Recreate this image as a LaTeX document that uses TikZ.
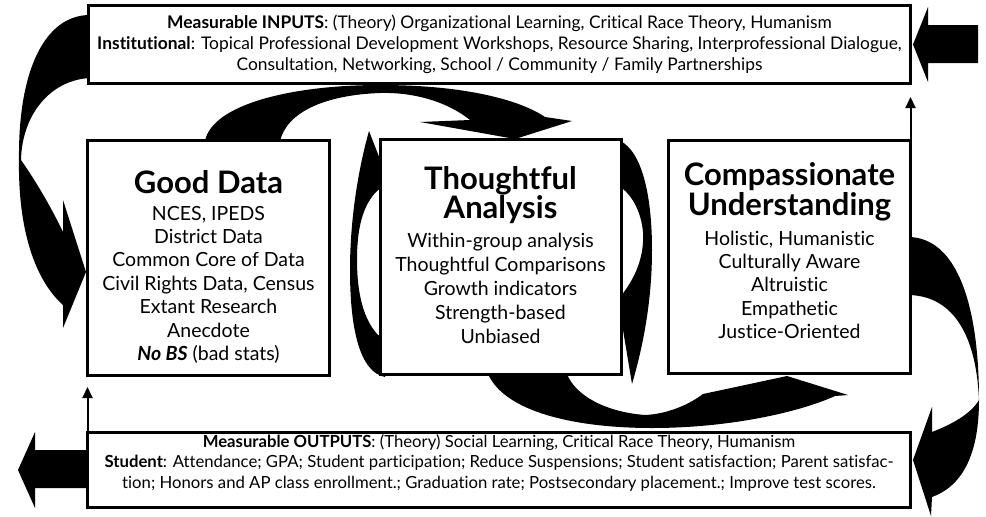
\documentclass[tikz,border=0pt]{standalone}
\usepackage{fontspec}
\setmainfont{Lato}[Ligatures=NoCommon]
\usetikzlibrary{arrows.meta}

\tikzset{
  stagebox/.style={draw, line width=3pt, fill=white, inner sep=0pt},
  boxline/.style={font=\fontsize{17.4}{21}\selectfont, inner sep=0pt},
  outline/.style={font=\fontsize{16.7}{21}\selectfont, inner sep=0pt},
  heading/.style={font=\fontsize{31}{30}\selectfont\bfseries, inner sep=0pt},
  row/.style={font=\fontsize{19.5}{23}\selectfont, inner sep=0pt},
  riser/.style={line width=2pt, -{Triangle[length=11pt,width=10pt]}}
}

\begin{document}
\begin{tikzpicture}[x=1pt, y=-1pt]
\useasboundingbox (0,0) rectangle (986,517);

% curved arrows, drawn first so the boxes cover their ends
\fill (90,15) .. controls (45,15) and (18,70) .. (19,160)
  .. controls (18,230) and (35,280) .. (63,305)
  -- (63,328) -- (86,272) -- (63,200) -- (63,232)
  .. controls (50,205) and (35,180) .. (21,160)
  .. controls (22,115) and (50,80) .. (90,78) -- cycle;
\fill (205,141) .. controls (212,105) and (290,85) .. (380,85)
  .. controls (465,85) and (520,100) .. (545,117)
  -- (572,121) -- (515,139) -- (420,122) -- (470,120)
  .. controls (445,100) and (410,92) .. (380,93)
  .. controls (325,95) and (287,112) .. (280,141) -- cycle;
\fill (385,377) .. controls (360,372) and (350,330) .. (350,270)
  .. controls (350,220) and (358,170) .. (369,131)
  -- (390,185) -- (378,190)
  .. controls (362,205) and (357,230) .. (357,260)
  .. controls (357,295) and (364,320) .. (378,335)
  -- (390,340) -- cycle;
\fill (615,139) .. controls (640,145) and (652,190) .. (652,250)
  .. controls (652,295) and (645,340) .. (632,384)
  -- (618,300) -- (624,292)
  .. controls (640,270) and (644,250) .. (643,232)
  .. controls (641,212) and (633,197) .. (622,188)
  -- (612,185) -- cycle;
\fill (488,374) .. controls (505,412) and (575,428) .. (652,428)
  .. controls (730,428) and (800,412) .. (835,396)
  -- (848,395) -- (787,376) -- (703,394)
  .. controls (690,404) and (668,414) .. (645,415)
  .. controls (605,412) and (575,395) .. (567,374) -- cycle;
\fill (909,237) .. controls (955,238) and (979,300) .. (979,400)
  .. controls (979,450) and (965,485) .. (932,497)
  -- (931,516) -- (913,460) -- (932,407) -- (932,432)
  .. controls (950,425) and (970,415) .. (979,400)
  .. controls (976,330) and (950,296) .. (909,295) -- cycle;

% block arrows in and out
\fill (978,25) -- (928,25) -- (928,7) -- (913,44.5) -- (928,82) -- (928,63) -- (978,63) -- cycle;
\fill (86,450) -- (35,450) -- (35,432) -- (18,470) -- (35,508) -- (35,488) -- (86,488) -- cycle;

% boxes
\node[stagebox, minimum width=822pt, minimum height=78pt] (inputs) at (499.5,44.5) {};
\node[stagebox, minimum width=242pt, minimum height=235pt] (gooddata) at (208.5,258) {};
\node[stagebox, minimum width=241pt, minimum height=235pt] (analysis) at (500.5,257) {};
\node[stagebox, minimum width=242pt, minimum height=233pt] (understanding) at (789.5,257) {};
\node[stagebox, minimum width=823pt, minimum height=75pt] (outputs) at (499,469.5) {};

\node[boxline, anchor=base] (in1) at (499.5,28) {\textbf{Measurable INPUTS}: (Theory) Organizational Learning, Critical Race Theory, Humanism};
\node[boxline, anchor=base] (in2) at (499.5,49.5) {\textbf{Institutional}: Topical Professional Development Workshops, Resource Sharing, Interprofessional Dialogue,};
\node[boxline, anchor=base] (in3) at (499.5,70) {Consultation, Networking, School / Community / Family Partnerships};

\node[heading, anchor=base] (gd0) at (208.5,193) {Good Data};
\node[row, anchor=base] (gd1) at (208.5,220) {NCES, IPEDS};
\node[row, anchor=base] (gd2) at (208.5,243.4) {District Data};
\node[row, anchor=base] (gd3) at (208.5,266.8) {Common Core of Data};
\node[row, anchor=base] (gd4) at (208.5,290.2) {Civil Rights Data, Census};
\node[row, anchor=base] (gd5) at (208.5,313.6) {Extant Research};
\node[row, anchor=base] (gd6) at (208.5,337) {Anecdote};
\node[row, anchor=base] (gd7) at (208.5,360.4) {\textbf{\textit{No BS}} (bad stats)};

\node[heading, anchor=base] (ta0) at (500.5,189) {Thoughtful};
\node[heading, anchor=base] (ta1) at (500.5,218) {Analysis};
\node[row, anchor=base] (ta2) at (500.5,247) {Within-group analysis};
\node[row, anchor=base] (ta3) at (500.5,271) {Thoughtful Comparisons};
\node[row, anchor=base] (ta4) at (500.5,295) {Growth indicators};
\node[row, anchor=base] (ta5) at (500.5,319) {Strength-based};
\node[row, anchor=base] (ta6) at (500.5,343) {Unbiased};

\node[heading, anchor=base] (cu0) at (789.5,185) {Compassionate};
\node[heading, anchor=base] (cu1) at (789.5,215) {Understanding};
\node[row, anchor=base] (cu2) at (789.5,245) {Holistic, Humanistic};
\node[row, anchor=base] (cu3) at (789.5,268) {Culturally Aware};
\node[row, anchor=base] (cu4) at (789.5,291) {Altruistic};
\node[row, anchor=base] (cu5) at (789.5,315) {Empathetic};
\node[row, anchor=base] (cu6) at (789.5,338) {Justice-Oriented};

\node[outline, anchor=base] (out1) at (499,447) {\textbf{Measurable OUTPUTS}: (Theory) Social Learning, Critical Race Theory, Humanism};
\node[outline, anchor=base] (out2) at (499,467) {\textbf{Student}: Attendance; GPA; Student participation; Reduce Suspensions; Student satisfaction; Parent satisfac-};
\node[outline, anchor=base] (out3) at (499,488) {tion; Honors and AP class enrollment.; Graduation rate; Postsecondary placement.; Improve test scores.};

% thin feedback arrows
\coordinate (feedtop) at (910.5,97);
\coordinate (feedbottom) at (87.5,387);
\draw[riser] ([xshift=-1.5pt]understanding.north east) -- (feedtop);
\draw[riser] ([xshift=1.5pt]outputs.north west) -- (feedbottom);
\end{tikzpicture}
\end{document}
